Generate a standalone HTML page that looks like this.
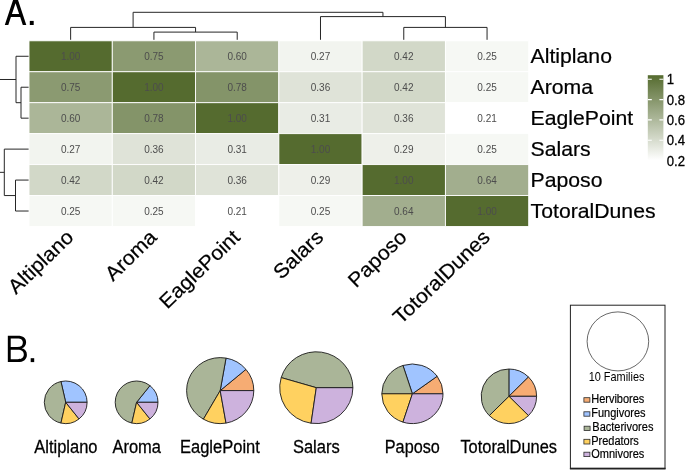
<!DOCTYPE html>
<html><head><meta charset="utf-8"><title>Figure</title>
<style>
html,body{margin:0;padding:0;background:#fff;}
body{width:685px;height:470px;overflow:hidden;font-family:"Liberation Sans",sans-serif;}
svg{display:block;will-change:transform;}
</style></head><body>
<svg width="685" height="470" viewBox="0 0 685 470">
<rect x="29.00" y="40.80" width="83.28" height="30.95" fill="#556B2F" stroke="#ffffff" stroke-width="0.9"/>
<rect x="112.28" y="40.80" width="83.28" height="30.95" fill="#8B9A71" stroke="#ffffff" stroke-width="0.9"/>
<rect x="195.57" y="40.80" width="83.28" height="30.95" fill="#ABB698" stroke="#ffffff" stroke-width="0.9"/>
<rect x="278.85" y="40.80" width="83.28" height="30.95" fill="#F2F4EF" stroke="#ffffff" stroke-width="0.9"/>
<rect x="362.13" y="40.80" width="83.28" height="30.95" fill="#D2D8C8" stroke="#ffffff" stroke-width="0.9"/>
<rect x="445.42" y="40.80" width="83.28" height="30.95" fill="#F6F8F4" stroke="#ffffff" stroke-width="0.9"/>
<rect x="29.00" y="71.75" width="83.28" height="30.95" fill="#8B9A71" stroke="#ffffff" stroke-width="0.9"/>
<rect x="112.28" y="71.75" width="83.28" height="30.95" fill="#556B2F" stroke="#ffffff" stroke-width="0.9"/>
<rect x="195.57" y="71.75" width="83.28" height="30.95" fill="#849469" stroke="#ffffff" stroke-width="0.9"/>
<rect x="278.85" y="71.75" width="83.28" height="30.95" fill="#DFE3D8" stroke="#ffffff" stroke-width="0.9"/>
<rect x="362.13" y="71.75" width="83.28" height="30.95" fill="#D2D8C8" stroke="#ffffff" stroke-width="0.9"/>
<rect x="445.42" y="71.75" width="83.28" height="30.95" fill="#F6F8F4" stroke="#ffffff" stroke-width="0.9"/>
<rect x="29.00" y="102.70" width="83.28" height="30.95" fill="#ABB698" stroke="#ffffff" stroke-width="0.9"/>
<rect x="112.28" y="102.70" width="83.28" height="30.95" fill="#849469" stroke="#ffffff" stroke-width="0.9"/>
<rect x="195.57" y="102.70" width="83.28" height="30.95" fill="#556B2F" stroke="#ffffff" stroke-width="0.9"/>
<rect x="278.85" y="102.70" width="83.28" height="30.95" fill="#E9ECE5" stroke="#ffffff" stroke-width="0.9"/>
<rect x="362.13" y="102.70" width="83.28" height="30.95" fill="#DFE3D8" stroke="#ffffff" stroke-width="0.9"/>
<rect x="445.42" y="102.70" width="83.28" height="30.95" fill="#FFFFFF" stroke="#ffffff" stroke-width="0.9"/>
<rect x="29.00" y="133.65" width="83.28" height="30.95" fill="#F2F4EF" stroke="#ffffff" stroke-width="0.9"/>
<rect x="112.28" y="133.65" width="83.28" height="30.95" fill="#DFE3D8" stroke="#ffffff" stroke-width="0.9"/>
<rect x="195.57" y="133.65" width="83.28" height="30.95" fill="#E9ECE5" stroke="#ffffff" stroke-width="0.9"/>
<rect x="278.85" y="133.65" width="83.28" height="30.95" fill="#556B2F" stroke="#ffffff" stroke-width="0.9"/>
<rect x="362.13" y="133.65" width="83.28" height="30.95" fill="#EEF0EA" stroke="#ffffff" stroke-width="0.9"/>
<rect x="445.42" y="133.65" width="83.28" height="30.95" fill="#F6F8F4" stroke="#ffffff" stroke-width="0.9"/>
<rect x="29.00" y="164.60" width="83.28" height="30.95" fill="#D2D8C8" stroke="#ffffff" stroke-width="0.9"/>
<rect x="112.28" y="164.60" width="83.28" height="30.95" fill="#D2D8C8" stroke="#ffffff" stroke-width="0.9"/>
<rect x="195.57" y="164.60" width="83.28" height="30.95" fill="#DFE3D8" stroke="#ffffff" stroke-width="0.9"/>
<rect x="278.85" y="164.60" width="83.28" height="30.95" fill="#EEF0EA" stroke="#ffffff" stroke-width="0.9"/>
<rect x="362.13" y="164.60" width="83.28" height="30.95" fill="#556B2F" stroke="#ffffff" stroke-width="0.9"/>
<rect x="445.42" y="164.60" width="83.28" height="30.95" fill="#A2AE8E" stroke="#ffffff" stroke-width="0.9"/>
<rect x="29.00" y="195.55" width="83.28" height="30.95" fill="#F6F8F4" stroke="#ffffff" stroke-width="0.9"/>
<rect x="112.28" y="195.55" width="83.28" height="30.95" fill="#F6F8F4" stroke="#ffffff" stroke-width="0.9"/>
<rect x="195.57" y="195.55" width="83.28" height="30.95" fill="#FFFFFF" stroke="#ffffff" stroke-width="0.9"/>
<rect x="278.85" y="195.55" width="83.28" height="30.95" fill="#F6F8F4" stroke="#ffffff" stroke-width="0.9"/>
<rect x="362.13" y="195.55" width="83.28" height="30.95" fill="#A2AE8E" stroke="#ffffff" stroke-width="0.9"/>
<rect x="445.42" y="195.55" width="83.28" height="30.95" fill="#556B2F" stroke="#ffffff" stroke-width="0.9"/>
<text x="70.64" y="59.88" font-family="Liberation Sans, sans-serif" font-size="10" fill="#4d4d4d" text-anchor="middle">1.00</text>
<text x="153.93" y="59.88" font-family="Liberation Sans, sans-serif" font-size="10" fill="#4d4d4d" text-anchor="middle">0.75</text>
<text x="237.21" y="59.88" font-family="Liberation Sans, sans-serif" font-size="10" fill="#4d4d4d" text-anchor="middle">0.60</text>
<text x="320.49" y="59.88" font-family="Liberation Sans, sans-serif" font-size="10" fill="#4d4d4d" text-anchor="middle">0.27</text>
<text x="403.78" y="59.88" font-family="Liberation Sans, sans-serif" font-size="10" fill="#4d4d4d" text-anchor="middle">0.42</text>
<text x="487.06" y="59.88" font-family="Liberation Sans, sans-serif" font-size="10" fill="#4d4d4d" text-anchor="middle">0.25</text>
<text x="70.64" y="90.82" font-family="Liberation Sans, sans-serif" font-size="10" fill="#4d4d4d" text-anchor="middle">0.75</text>
<text x="153.93" y="90.82" font-family="Liberation Sans, sans-serif" font-size="10" fill="#4d4d4d" text-anchor="middle">1.00</text>
<text x="237.21" y="90.82" font-family="Liberation Sans, sans-serif" font-size="10" fill="#4d4d4d" text-anchor="middle">0.78</text>
<text x="320.49" y="90.82" font-family="Liberation Sans, sans-serif" font-size="10" fill="#4d4d4d" text-anchor="middle">0.36</text>
<text x="403.78" y="90.82" font-family="Liberation Sans, sans-serif" font-size="10" fill="#4d4d4d" text-anchor="middle">0.42</text>
<text x="487.06" y="90.82" font-family="Liberation Sans, sans-serif" font-size="10" fill="#4d4d4d" text-anchor="middle">0.25</text>
<text x="70.64" y="121.77" font-family="Liberation Sans, sans-serif" font-size="10" fill="#4d4d4d" text-anchor="middle">0.60</text>
<text x="153.93" y="121.77" font-family="Liberation Sans, sans-serif" font-size="10" fill="#4d4d4d" text-anchor="middle">0.78</text>
<text x="237.21" y="121.77" font-family="Liberation Sans, sans-serif" font-size="10" fill="#4d4d4d" text-anchor="middle">1.00</text>
<text x="320.49" y="121.77" font-family="Liberation Sans, sans-serif" font-size="10" fill="#4d4d4d" text-anchor="middle">0.31</text>
<text x="403.78" y="121.77" font-family="Liberation Sans, sans-serif" font-size="10" fill="#4d4d4d" text-anchor="middle">0.36</text>
<text x="487.06" y="121.77" font-family="Liberation Sans, sans-serif" font-size="10" fill="#4d4d4d" text-anchor="middle">0.21</text>
<text x="70.64" y="152.72" font-family="Liberation Sans, sans-serif" font-size="10" fill="#4d4d4d" text-anchor="middle">0.27</text>
<text x="153.93" y="152.72" font-family="Liberation Sans, sans-serif" font-size="10" fill="#4d4d4d" text-anchor="middle">0.36</text>
<text x="237.21" y="152.72" font-family="Liberation Sans, sans-serif" font-size="10" fill="#4d4d4d" text-anchor="middle">0.31</text>
<text x="320.49" y="152.72" font-family="Liberation Sans, sans-serif" font-size="10" fill="#4d4d4d" text-anchor="middle">1.00</text>
<text x="403.78" y="152.72" font-family="Liberation Sans, sans-serif" font-size="10" fill="#4d4d4d" text-anchor="middle">0.29</text>
<text x="487.06" y="152.72" font-family="Liberation Sans, sans-serif" font-size="10" fill="#4d4d4d" text-anchor="middle">0.25</text>
<text x="70.64" y="183.67" font-family="Liberation Sans, sans-serif" font-size="10" fill="#4d4d4d" text-anchor="middle">0.42</text>
<text x="153.93" y="183.67" font-family="Liberation Sans, sans-serif" font-size="10" fill="#4d4d4d" text-anchor="middle">0.42</text>
<text x="237.21" y="183.67" font-family="Liberation Sans, sans-serif" font-size="10" fill="#4d4d4d" text-anchor="middle">0.36</text>
<text x="320.49" y="183.67" font-family="Liberation Sans, sans-serif" font-size="10" fill="#4d4d4d" text-anchor="middle">0.29</text>
<text x="403.78" y="183.67" font-family="Liberation Sans, sans-serif" font-size="10" fill="#4d4d4d" text-anchor="middle">1.00</text>
<text x="487.06" y="183.67" font-family="Liberation Sans, sans-serif" font-size="10" fill="#4d4d4d" text-anchor="middle">0.64</text>
<text x="70.64" y="214.62" font-family="Liberation Sans, sans-serif" font-size="10" fill="#4d4d4d" text-anchor="middle">0.25</text>
<text x="153.93" y="214.62" font-family="Liberation Sans, sans-serif" font-size="10" fill="#4d4d4d" text-anchor="middle">0.25</text>
<text x="237.21" y="214.62" font-family="Liberation Sans, sans-serif" font-size="10" fill="#4d4d4d" text-anchor="middle">0.21</text>
<text x="320.49" y="214.62" font-family="Liberation Sans, sans-serif" font-size="10" fill="#4d4d4d" text-anchor="middle">0.25</text>
<text x="403.78" y="214.62" font-family="Liberation Sans, sans-serif" font-size="10" fill="#4d4d4d" text-anchor="middle">0.64</text>
<text x="487.06" y="214.62" font-family="Liberation Sans, sans-serif" font-size="10" fill="#4d4d4d" text-anchor="middle">1.00</text>
<path d="M153.93,39.8 V32.1 H237.21 V39.8 M70.64,39.8 V27.4 H195.57 V32.1 M403.78,39.8 V27.4 H487.06 V39.8 M320.49,39.8 V16.6 H445.42 V27.4 M133.10,27.4 V12.3 H382.95 V16.6" fill="none" stroke="#262626" stroke-width="1"/>
<path d="M28.6,87.22 H21 V118.17 H28.6 M28.6,56.27 H16 V102.70 H21 M28.6,180.07 H15.5 V211.02 H28.6 M28.6,149.12 H4.3 V195.55 H15.5 M16,79.49 H-3 V172.34 H4.3" fill="none" stroke="#262626" stroke-width="1"/>
<text transform="translate(530.6,63.27) scale(1.045,1)" x="0" y="0" font-family="Liberation Sans, sans-serif" font-size="20.3" fill="#000" stroke="#000" stroke-width="0.22">Altiplano</text>
<text transform="translate(530.6,94.22) scale(1.045,1)" x="0" y="0" font-family="Liberation Sans, sans-serif" font-size="20.3" fill="#000" stroke="#000" stroke-width="0.22">Aroma</text>
<text transform="translate(530.6,125.17) scale(1.045,1)" x="0" y="0" font-family="Liberation Sans, sans-serif" font-size="20.3" fill="#000" stroke="#000" stroke-width="0.22">EaglePoint</text>
<text transform="translate(530.6,156.12) scale(1.045,1)" x="0" y="0" font-family="Liberation Sans, sans-serif" font-size="20.3" fill="#000" stroke="#000" stroke-width="0.22">Salars</text>
<text transform="translate(530.6,187.07) scale(1.045,1)" x="0" y="0" font-family="Liberation Sans, sans-serif" font-size="20.3" fill="#000" stroke="#000" stroke-width="0.22">Paposo</text>
<text transform="translate(530.6,218.02) scale(1.045,1)" x="0" y="0" font-family="Liberation Sans, sans-serif" font-size="20.3" fill="#000" stroke="#000" stroke-width="0.22">TotoralDunes</text>
<text transform="translate(64.64,228.10) rotate(-43.8) scale(1.045,1)" x="0" y="14.62" font-family="Liberation Sans, sans-serif" font-size="20.3" fill="#000" stroke="#000" stroke-width="0.22" text-anchor="end">Altiplano</text>
<text transform="translate(147.93,228.10) rotate(-43.8) scale(1.045,1)" x="0" y="14.62" font-family="Liberation Sans, sans-serif" font-size="20.3" fill="#000" stroke="#000" stroke-width="0.22" text-anchor="end">Aroma</text>
<text transform="translate(231.21,228.10) rotate(-43.8) scale(1.045,1)" x="0" y="14.62" font-family="Liberation Sans, sans-serif" font-size="20.3" fill="#000" stroke="#000" stroke-width="0.22" text-anchor="end">EaglePoint</text>
<text transform="translate(314.49,228.10) rotate(-43.8) scale(1.045,1)" x="0" y="14.62" font-family="Liberation Sans, sans-serif" font-size="20.3" fill="#000" stroke="#000" stroke-width="0.22" text-anchor="end">Salars</text>
<text transform="translate(397.78,228.10) rotate(-43.8) scale(1.045,1)" x="0" y="14.62" font-family="Liberation Sans, sans-serif" font-size="20.3" fill="#000" stroke="#000" stroke-width="0.22" text-anchor="end">Paposo</text>
<text transform="translate(481.06,228.10) rotate(-43.8) scale(1.045,1)" x="0" y="14.62" font-family="Liberation Sans, sans-serif" font-size="20.3" fill="#000" stroke="#000" stroke-width="0.22" text-anchor="end">TotoralDunes</text>
<defs><linearGradient id="cb" x1="0" y1="0" x2="0" y2="1"><stop offset="0" stop-color="#556B2F"/><stop offset="1" stop-color="#ffffff"/></linearGradient></defs>
<rect x="647.8" y="75.2" width="15.60" height="85.20" fill="url(#cb)"/>
<path d="M647.8,79.2 h4 M663.4,79.2 h-4" stroke="#fff" stroke-width="1.1"/>
<text transform="translate(666.8,84.40) scale(0.94,1)" x="0" y="0" font-family="Liberation Sans, sans-serif" font-size="14.0" fill="#000" stroke="#000" stroke-width="0.3">1</text>
<path d="M647.8,99.6 h4 M663.4,99.6 h-4" stroke="#fff" stroke-width="1.1"/>
<text transform="translate(666.8,104.80) scale(0.94,1)" x="0" y="0" font-family="Liberation Sans, sans-serif" font-size="14.0" fill="#000" stroke="#000" stroke-width="0.3">0.8</text>
<path d="M647.8,119.9 h4 M663.4,119.9 h-4" stroke="#fff" stroke-width="1.1"/>
<text transform="translate(666.8,125.10) scale(0.94,1)" x="0" y="0" font-family="Liberation Sans, sans-serif" font-size="14.0" fill="#000" stroke="#000" stroke-width="0.3">0.6</text>
<path d="M647.8,140.2 h4 M663.4,140.2 h-4" stroke="#fff" stroke-width="1.1"/>
<text transform="translate(666.8,145.40) scale(0.94,1)" x="0" y="0" font-family="Liberation Sans, sans-serif" font-size="14.0" fill="#000" stroke="#000" stroke-width="0.3">0.4</text>
<path d="M647.8,160.5 h4 M663.4,160.5 h-4" stroke="#fff" stroke-width="1.1"/>
<text transform="translate(666.8,165.70) scale(0.94,1)" x="0" y="0" font-family="Liberation Sans, sans-serif" font-size="14.0" fill="#000" stroke="#000" stroke-width="0.3">0.2</text>
<path fill="#000" fill-rule="evenodd" d="M4.8,25 L13.5,-1.3 L17.6,-1.3 L26.3,25 L22.8,25 L20.18,17.1 L10.92,17.1 L8.3,25 Z M11.95,14.0 L19.15,14.0 L15.55,3.2 Z"/>
<rect x="29.8" y="20.9" width="3.9" height="4.1" fill="#000"/>
<path fill="#000" fill-rule="evenodd" d="M7.82,335.8 H17.5 C23.5,335.8 26.1,338.5 26.1,342.2 C26.1,345.2 24.6,347.4 21.8,348.3 C25.0,349.0 26.9,351.3 26.9,354.7 C26.9,359.3 23.6,362.1 17.8,362.1 H7.82 Z M10.73,338.5 H17.3 C21.2,338.5 22.85,340.0 22.85,342.7 C22.85,345.5 21.0,347.1 17.3,347.1 H10.73 Z M10.73,349.8 H17.6 C21.8,349.8 23.8,351.5 23.8,354.6 C23.8,357.7 21.8,359.3 17.6,359.3 H10.73 Z"/>
<rect x="30.7" y="358.2" width="3.5" height="3.9" fill="#000"/>
<path d="M65.70,402.30 L87.10,402.30 A21.40,21.30 0 0 0 60.94,381.53 Z" fill="#A0C4FF" stroke="#1a1a1a" stroke-width="0.9" stroke-linejoin="round"/>
<path d="M65.70,402.30 L60.94,381.53 A21.40,21.30 0 0 0 60.94,423.07 Z" fill="#AAB598" stroke="#1a1a1a" stroke-width="0.9" stroke-linejoin="round"/>
<path d="M65.70,402.30 L60.94,423.07 A21.40,21.30 0 0 0 79.04,418.95 Z" fill="#FFD160" stroke="#1a1a1a" stroke-width="0.9" stroke-linejoin="round"/>
<path d="M65.70,402.30 L79.04,418.95 A21.40,21.30 0 0 0 87.10,402.30 Z" fill="#CDB2DD" stroke="#1a1a1a" stroke-width="0.9" stroke-linejoin="round"/>
<path d="M136.60,402.30 L158.00,402.30 A21.40,21.30 0 0 0 149.94,385.65 Z" fill="#A0C4FF" stroke="#1a1a1a" stroke-width="0.9" stroke-linejoin="round"/>
<path d="M136.60,402.30 L149.94,385.65 A21.40,21.30 0 1 0 131.84,423.07 Z" fill="#AAB598" stroke="#1a1a1a" stroke-width="0.9" stroke-linejoin="round"/>
<path d="M136.60,402.30 L131.84,423.07 A21.40,21.30 0 0 0 149.94,418.95 Z" fill="#FFD160" stroke="#1a1a1a" stroke-width="0.9" stroke-linejoin="round"/>
<path d="M136.60,402.30 L149.94,418.95 A21.40,21.30 0 0 0 158.00,402.30 Z" fill="#CDB2DD" stroke="#1a1a1a" stroke-width="0.9" stroke-linejoin="round"/>
<path d="M220.20,390.60 L253.80,390.60 A33.60,33.00 0 0 0 245.94,369.39 Z" fill="#F6AC73" stroke="#1a1a1a" stroke-width="0.9" stroke-linejoin="round"/>
<path d="M220.20,390.60 L245.94,369.39 A33.60,33.00 0 0 0 226.03,358.10 Z" fill="#A0C4FF" stroke="#1a1a1a" stroke-width="0.9" stroke-linejoin="round"/>
<path d="M220.20,390.60 L226.03,358.10 A33.60,33.00 0 0 0 203.40,419.18 Z" fill="#AAB598" stroke="#1a1a1a" stroke-width="0.9" stroke-linejoin="round"/>
<path d="M220.20,390.60 L203.40,419.18 A33.60,33.00 0 0 0 226.03,423.10 Z" fill="#FFD160" stroke="#1a1a1a" stroke-width="0.9" stroke-linejoin="round"/>
<path d="M220.20,390.60 L226.03,423.10 A33.60,33.00 0 0 0 253.80,390.60 Z" fill="#CDB2DD" stroke="#1a1a1a" stroke-width="0.9" stroke-linejoin="round"/>
<path d="M316.30,387.70 L352.90,387.70 A36.60,35.90 0 0 0 281.18,377.59 Z" fill="#AAB598" stroke="#1a1a1a" stroke-width="0.9" stroke-linejoin="round"/>
<path d="M316.30,387.70 L281.18,377.59 A36.60,35.90 0 0 0 311.09,423.23 Z" fill="#FFD160" stroke="#1a1a1a" stroke-width="0.9" stroke-linejoin="round"/>
<path d="M316.30,387.70 L311.09,423.23 A36.60,35.90 0 0 0 352.90,387.70 Z" fill="#CDB2DD" stroke="#1a1a1a" stroke-width="0.9" stroke-linejoin="round"/>
<path d="M412.40,393.80 L443.00,393.80 A30.60,29.80 0 0 0 437.16,376.28 Z" fill="#F6AC73" stroke="#1a1a1a" stroke-width="0.9" stroke-linejoin="round"/>
<path d="M412.40,393.80 L437.16,376.28 A30.60,29.80 0 0 0 402.94,365.46 Z" fill="#A0C4FF" stroke="#1a1a1a" stroke-width="0.9" stroke-linejoin="round"/>
<path d="M412.40,393.80 L402.94,365.46 A30.60,29.80 0 0 0 381.80,393.80 Z" fill="#AAB598" stroke="#1a1a1a" stroke-width="0.9" stroke-linejoin="round"/>
<path d="M412.40,393.80 L381.80,393.80 A30.60,29.80 0 0 0 402.94,422.14 Z" fill="#FFD160" stroke="#1a1a1a" stroke-width="0.9" stroke-linejoin="round"/>
<path d="M412.40,393.80 L402.94,422.14 A30.60,29.80 0 0 0 443.00,393.80 Z" fill="#CDB2DD" stroke="#1a1a1a" stroke-width="0.9" stroke-linejoin="round"/>
<path d="M508.90,396.30 L508.90,369.00 A27.70,27.30 0 0 1 528.49,377.00 Z" fill="#A0C4FF" stroke="#1a1a1a" stroke-width="0.9" stroke-linejoin="round"/>
<path d="M508.90,396.30 L528.49,377.00 A27.70,27.30 0 0 1 536.60,396.30 Z" fill="#F6AC73" stroke="#1a1a1a" stroke-width="0.9" stroke-linejoin="round"/>
<path d="M508.90,396.30 L536.60,396.30 A27.70,27.30 0 0 1 528.49,415.60 Z" fill="#CDB2DD" stroke="#1a1a1a" stroke-width="0.9" stroke-linejoin="round"/>
<path d="M508.90,396.30 L528.49,415.60 A27.70,27.30 0 0 1 489.31,415.60 Z" fill="#FFD160" stroke="#1a1a1a" stroke-width="0.9" stroke-linejoin="round"/>
<path d="M508.90,396.30 L489.31,415.60 A27.70,27.30 0 0 1 508.90,369.00 Z" fill="#AAB598" stroke="#1a1a1a" stroke-width="0.9" stroke-linejoin="round"/>
<text x="34.30" y="453.1" font-family="Liberation Sans, sans-serif" font-size="18.9" fill="#000" stroke="#000" stroke-width="0.3" textLength="63.2" lengthAdjust="spacingAndGlyphs">Altiplano</text>
<text x="112.45" y="453.1" font-family="Liberation Sans, sans-serif" font-size="18.9" fill="#000" stroke="#000" stroke-width="0.3" textLength="48.5" lengthAdjust="spacingAndGlyphs">Aroma</text>
<text x="179.95" y="453.1" font-family="Liberation Sans, sans-serif" font-size="18.9" fill="#000" stroke="#000" stroke-width="0.3" textLength="79.9" lengthAdjust="spacingAndGlyphs">EaglePoint</text>
<text x="292.90" y="453.1" font-family="Liberation Sans, sans-serif" font-size="18.9" fill="#000" stroke="#000" stroke-width="0.3" textLength="46.8" lengthAdjust="spacingAndGlyphs">Salars</text>
<text x="384.80" y="453.1" font-family="Liberation Sans, sans-serif" font-size="18.9" fill="#000" stroke="#000" stroke-width="0.3" textLength="55.0" lengthAdjust="spacingAndGlyphs">Paposo</text>
<text x="460.40" y="453.1" font-family="Liberation Sans, sans-serif" font-size="18.9" fill="#000" stroke="#000" stroke-width="0.3" textLength="96.6" lengthAdjust="spacingAndGlyphs">TotoralDunes</text>
<rect x="570.4" y="305.2" width="94.6" height="163.2" fill="#fff" stroke="#222" stroke-width="1.0"/>
<path d="M569.9,468.7 H665.6" stroke="#222" stroke-width="1.8" fill="none"/>
<ellipse cx="617.9" cy="341.4" rx="30.8" ry="29.5" fill="#fff" stroke="#262626" stroke-width="0.7"/>
<text x="588.7" y="380.8" font-family="Liberation Sans, sans-serif" font-size="11.9" fill="#000" textLength="55.8" lengthAdjust="spacingAndGlyphs">10 Families</text>
<rect x="583.90" y="397.70" width="6.0" height="4.50" fill="#F6AC73" stroke="#2a2a2a" stroke-width="0.8"/>
<text transform="translate(591.20,403.0) scale(0.856,1)" x="0" y="0" font-family="Liberation Sans, sans-serif" font-size="12.85" fill="#000" stroke="#000" stroke-width="0.2">Hervibores</text>
<rect x="583.90" y="411.80" width="6.0" height="4.40" fill="#A0C4FF" stroke="#2a2a2a" stroke-width="0.8"/>
<text transform="translate(591.20,416.5) scale(0.856,1)" x="0" y="0" font-family="Liberation Sans, sans-serif" font-size="12.85" fill="#000" stroke="#000" stroke-width="0.2">Fungivores</text>
<rect x="584.10" y="426.20" width="6.0" height="4.30" fill="#AAB598" stroke="#2a2a2a" stroke-width="0.8"/>
<text transform="translate(592.30,431.0) scale(0.856,1)" x="0" y="0" font-family="Liberation Sans, sans-serif" font-size="12.85" fill="#000" stroke="#000" stroke-width="0.2">Bacterivores</text>
<rect x="583.90" y="439.30" width="6.0" height="4.70" fill="#FFD160" stroke="#2a2a2a" stroke-width="0.8"/>
<text transform="translate(591.20,444.65) scale(0.856,1)" x="0" y="0" font-family="Liberation Sans, sans-serif" font-size="12.85" fill="#000" stroke="#000" stroke-width="0.2">Predators</text>
<rect x="583.90" y="452.20" width="6.0" height="4.40" fill="#CDB2DD" stroke="#2a2a2a" stroke-width="0.8"/>
<text transform="translate(591.20,458.3) scale(0.856,1)" x="0" y="0" font-family="Liberation Sans, sans-serif" font-size="12.85" fill="#000" stroke="#000" stroke-width="0.2">Omnivores</text>
</svg>
</body></html>
